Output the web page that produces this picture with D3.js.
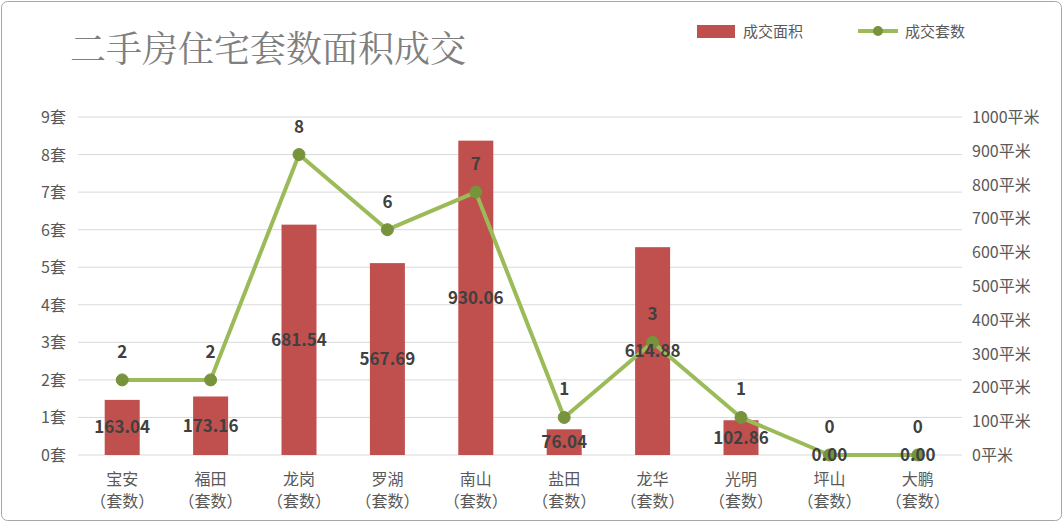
<!DOCTYPE html>
<html><head><meta charset="utf-8">
<script src="https://cdn.jsdelivr.net/npm/d3@7"></script>
<style>body{margin:0;background:#fff;font-family:"Noto Sans CJK SC","Noto Sans",sans-serif;}</style>
</head><body><div id="chart"></div>
<script>
// 二手房住宅套数面积成交
const districts = ["宝安","福田","龙岗","罗湖","南山","盐田","龙华","光明","坪山","大鹏"];
const areaValues = [163.04,173.16,681.54,567.69,930.06,76.04,614.88,102.86,0,0];
const countValues = [2,2,8,6,7,1,3,1,0,0];
const countTicks = [0,1,2,3,4,5,6,7,8,9];
const areaTicks = [0,100,200,300,400,500,600,700,800,900,1000];

const width = 1064, height = 523;
const plot = {left: 78, right: 962, top: 117, bottom: 455};

const svg = d3.select("#chart").append("svg").attr("width", width).attr("height", height);

svg.append("rect").attr("x", 1.5).attr("y", 1.5).attr("width", width - 4).attr("height", height - 4)
    .attr("rx", 6).attr("fill", "#fff").attr("stroke", "#a6a6a6");

svg.append("text").attr("x", 70).attr("y", 62).text("二手房住宅套数面积成交")
    .style("font-size", "36px").style("fill", "#7f7f7f").style("font-family", "'Noto Serif CJK SC','Noto Sans CJK SC',serif");

const x = d3.scaleBand().domain(districts).range([plot.left, plot.right]);
const yL = d3.scaleLinear().domain([0, 9]).range([plot.bottom, plot.top]);
const yR = d3.scaleLinear().domain([0, 1000]).range([plot.bottom, plot.top]);

// gridlines
svg.append("g").selectAll("line").data(countTicks).join("line")
    .attr("x1", plot.left).attr("x2", plot.right)
    .attr("y1", d => yL(d)).attr("y2", d => yL(d))
    .attr("stroke", "#d9d9d9");

// left axis labels
svg.append("g").selectAll("text").data(countTicks).join("text")
    .attr("x", 66).attr("y", d => yL(d) + 6).attr("text-anchor", "end")
    .text(d => d + "套").style("font-size", "16px").style("fill", "#595959");

// right axis labels
svg.append("g").selectAll("text").data(areaTicks).join("text")
    .attr("x", 972).attr("y", d => yR(d) + 6)
    .text(d => d + "平米").style("font-size", "16px").style("fill", "#595959");

// x labels
const xl = svg.append("g").selectAll("g").data(districts).join("g")
    .attr("transform", d => `translate(${x(d) + x.bandwidth() / 2},0)`);
xl.append("text").attr("y", 485).attr("text-anchor", "middle").text(d => d)
    .style("font-size", "16px").style("fill", "#595959");
xl.append("text").attr("y", 507).attr("text-anchor", "middle").text("（套数）")
    .style("font-size", "16px").style("fill", "#595959");

// bars
const bw = 35;
svg.append("g").selectAll("rect").data(areaValues).join("rect")
    .attr("x", (d, i) => x(districts[i]) + x.bandwidth() / 2 - bw / 2)
    .attr("y", d => yR(d)).attr("width", bw)
    .attr("height", d => plot.bottom - yR(d)).attr("fill", "#c0504d");

// line
const line = d3.line().x((d, i) => x(districts[i]) + x.bandwidth() / 2).y(d => yL(d));
svg.append("path").datum(countValues).attr("d", line)
    .attr("fill", "none").attr("stroke", "#9bbb59").attr("stroke-width", 4).attr("stroke-linejoin", "round");
svg.append("g").selectAll("circle").data(countValues).join("circle")
    .attr("cx", (d, i) => x(districts[i]) + x.bandwidth() / 2).attr("cy", d => yL(d))
    .attr("r", 6).attr("fill", "#77933c").attr("stroke", "#77933c");

// bar labels
svg.append("g").selectAll("text").data(areaValues).join("text")
    .attr("x", (d, i) => x(districts[i]) + x.bandwidth() / 2)
    .attr("y", d => (yR(d) + plot.bottom) / 2 + 6).attr("text-anchor", "middle")
    .text(d => d.toFixed(2)).style("font-size", "17px").style("font-weight", "bold").style("fill", "#404040");

// line labels
svg.append("g").selectAll("text").data(countValues).join("text")
    .attr("x", (d, i) => x(districts[i]) + x.bandwidth() / 2)
    .attr("y", d => yL(d) - 22).attr("text-anchor", "middle")
    .text(d => d).style("font-size", "17px").style("font-weight", "bold").style("fill", "#404040");

// legend
svg.append("rect").attr("x", 697).attr("y", 25).attr("width", 38).attr("height", 13).attr("fill", "#c0504d");
svg.append("text").attr("x", 743).attr("y", 37).text("成交面积").style("font-size", "15px").style("fill", "#595959");
svg.append("line").attr("x1", 858).attr("x2", 898).attr("y1", 31).attr("y2", 31)
    .attr("stroke", "#9bbb59").attr("stroke-width", 4);
svg.append("circle").attr("cx", 878).attr("cy", 31).attr("r", 5).attr("fill", "#77933c");
svg.append("text").attr("x", 905).attr("y", 37).text("成交套数").style("font-size", "15px").style("fill", "#595959");
</script></body></html>
